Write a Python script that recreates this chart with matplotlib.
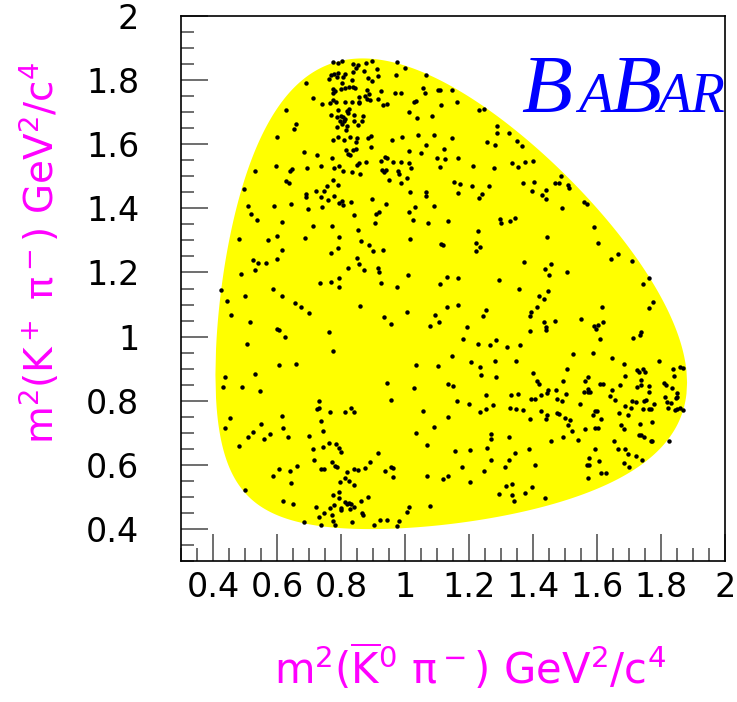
import numpy as np
import matplotlib
matplotlib.use("Agg")
from matplotlib import pyplot as plt
from matplotlib.ticker import MultipleLocator, FuncFormatter

plt.rcParams['mathtext.default'] = 'regular'

# masses (GeV) for D0 -> K0bar K+ pi-, used for the kinematic boundary
m_d0 = 1.8648
m_k0 = 0.4976
m_kp = 0.4937
m_pi = 0.1396

# events: m2(K0bar pi-) and m2(K+ pi-) in three bands
x_top = [0.774,0.790,0.804,0.837,0.852,0.846,0.896,0.877,0.912,0.976,
         0.999,1.067,0.764,0.770,0.779,0.792,0.812,0.786,0.805,0.838,
         0.835,0.872,0.884,0.897,0.917,0.972,0.690,0.804,0.774,0.781,
         0.776,0.799,0.813,0.824,0.837,0.845,0.875,0.888,0.882,0.857,
         0.856,0.880,0.924,0.931,0.944,0.969,0.987,1.055,1.062,1.104,
         1.110,1.112,1.033,1.027,1.014,1.037,1.083,0.711,0.740,0.765,
         0.776,0.783,0.812,0.835,0.857,0.890,0.917,0.790,0.818,0.825,
         0.823,0.770,0.787,0.799,0.807,0.814,0.796,0.808,0.802,0.818,
         0.816,0.842,0.841,0.869,0.866,0.852,0.629,0.659,0.652,0.599,
         0.789,0.792,0.775,0.809,0.829,0.850,0.846,0.883,0.893,0.895,
         0.847,0.838,0.815,0.822,0.829,0.960,0.992,1.040,1.065,1.092,
         1.122,1.012,1.050,0.684,0.724,0.771,0.938,0.943,0.926,1.126,
         1.099,0.597,0.640,0.646,0.694,0.737,0.779,0.794,0.807,0.834,
         0.849,0.855,0.877,0.858,0.927,0.940,0.934,0.964,0.977,0.988,
         0.981,1.011,1.018,1.108,0.531,1.007,
         1.146,1.161,1.232,1.246,1.289,1.287,1.325,1.257,1.282,1.351,
         1.365,1.146,1.167,1.213,1.277,1.334,1.354,1.376,1.400,1.487]
y_top = [1.858,1.852,1.861,1.849,1.847,1.839,1.860,1.854,1.836,1.858,
         1.839,1.816,1.804,1.815,1.819,1.823,1.819,1.809,1.809,1.825,
         1.799,1.830,1.807,1.797,1.813,1.817,1.791,1.790,1.772,1.766,
         1.759,1.773,1.776,1.780,1.777,1.775,1.749,1.757,1.741,1.746,
         1.732,1.768,1.767,1.722,1.726,1.759,1.761,1.776,1.761,1.768,
         1.769,1.723,1.736,1.733,1.702,1.682,1.688,1.743,1.724,1.728,
         1.739,1.731,1.731,1.731,1.730,1.738,1.742,1.706,1.703,1.709,
         1.697,1.691,1.685,1.688,1.685,1.679,1.674,1.671,1.662,1.657,
         1.645,1.691,1.674,1.688,1.674,1.660,1.706,1.663,1.646,1.624,
         1.654,1.623,1.613,1.614,1.624,1.620,1.606,1.619,1.626,1.592,
         1.586,1.581,1.581,1.570,1.565,1.613,1.623,1.630,1.598,1.628,
         1.586,1.578,1.572,1.576,1.566,1.556,1.560,1.557,1.549,1.553,
         1.556,1.533,1.517,1.524,1.526,1.533,1.526,1.533,1.515,1.513,
         1.534,1.541,1.545,1.508,1.520,1.520,1.512,1.545,1.515,1.544,
         1.508,1.543,1.527,1.528,1.516,1.496,
         1.769,1.731,1.706,1.710,1.658,1.636,1.636,1.608,1.598,1.611,
         1.596,1.619,1.558,1.533,1.526,1.540,1.528,1.544,1.549,1.502]

x_mid = [0.496,0.629,0.639,0.692,0.690,0.722,0.746,0.755,0.776,0.792,
         0.737,0.759,0.779,0.795,0.802,0.805,0.830,0.740,0.696,0.644,
         0.592,0.509,0.519,0.537,0.615,0.712,0.772,0.840,0.896,0.940,
         0.908,0.919,0.907,0.852,0.862,0.887,0.899,0.930,0.794,0.790,
         0.769,0.687,0.601,0.571,0.480,0.616,0.601,0.526,0.542,0.565,
         0.530,0.488,0.849,0.855,0.872,0.822,0.917,0.920,0.924,0.794,
         0.769,0.735,0.794,0.587,0.616,0.501,0.426,0.444,0.457,0.516,
         0.505,0.601,0.607,0.626,0.655,0.674,0.701,0.764,0.776,0.860,
         0.935,0.955,0.975,1.008,1.015,1.005,1.077,1.095,1.106,1.108,
         1.130,1.112,1.120,1.135,1.072,1.025,1.014,1.031,1.017,1.066,
         1.065,1.092,0.987,0.950,1.132,
         1.153,1.172,1.208,1.263,1.165,1.240,1.231,1.368,1.402,1.468,
         1.481,1.510,1.514,1.398,1.429,1.441,1.441,1.491,1.559,1.568,
         1.590,1.602,1.297,1.300,1.327,1.345,1.227,1.222,1.235,1.222,
         1.445,1.373,1.436,1.456,1.450,1.505,1.643,1.665,1.708,1.761,
         1.745,1.776,1.763,1.165,1.295,1.356,1.447,1.420,1.433,1.413,
         1.395,1.392,1.165,1.252,1.245,1.195,1.181,1.229,1.265,1.283,
         1.318,1.358,1.390,1.435,1.441,1.441,1.468,1.550,1.592,1.604,
         1.597,1.620,1.616,1.608,1.711,1.738,1.735,1.588,1.525,1.646,
         1.146]
y_mid = [1.460,1.485,1.480,1.446,1.434,1.455,1.455,1.470,1.488,1.474,
         1.436,1.426,1.438,1.417,1.424,1.412,1.420,1.405,1.398,1.415,
         1.408,1.406,1.383,1.363,1.358,1.344,1.346,1.378,1.430,1.413,
         1.382,1.388,1.353,1.333,1.298,1.285,1.266,1.269,1.310,1.276,
         1.261,1.308,1.315,1.300,1.303,1.271,1.243,1.239,1.228,1.228,
         1.207,1.195,1.246,1.226,1.208,1.213,1.214,1.202,1.168,1.183,
         1.171,1.166,1.155,1.148,1.127,1.128,1.146,1.111,1.066,1.046,
         0.976,1.025,1.020,0.998,1.105,1.093,1.073,1.013,0.956,1.095,
         1.061,1.038,1.155,1.191,1.303,1.076,1.034,1.068,1.045,1.164,
         1.186,1.290,1.285,1.360,1.353,1.363,1.390,1.403,1.450,1.452,
         1.440,1.408,1.480,1.488,1.093,
         1.483,1.476,1.470,1.470,1.447,1.444,1.433,1.480,1.483,1.480,
         1.480,1.473,1.465,1.453,1.442,1.458,1.430,1.400,1.419,1.414,
         1.342,1.293,1.367,1.353,1.360,1.369,1.330,1.293,1.279,1.268,
         1.312,1.233,1.210,1.225,1.193,1.203,1.241,1.258,1.235,1.183,
         1.163,1.109,1.090,1.182,1.175,1.150,1.143,1.127,1.117,1.091,
         1.077,1.065,1.097,1.083,1.063,1.031,0.993,0.978,0.973,0.990,
         0.966,0.973,1.018,1.045,1.031,1.020,1.050,1.056,1.033,1.037,
         1.023,1.046,1.091,0.993,0.995,1.013,1.005,0.949,0.945,0.934,
         0.941]

x_low = [0.605,0.659,0.437,0.532,0.430,0.492,0.548,1.033,1.102,0.944,
         1.027,1.135,0.957,1.057,1.135,1.092,1.033,1.069,1.069,1.118,
         1.133,1.077,1.012,1.006,0.981,0.975,0.944,0.921,0.902,0.730,
         0.725,0.731,0.767,0.812,0.832,0.840,0.737,0.744,0.701,0.712,
         0.744,0.762,0.784,0.794,0.800,0.717,0.738,0.746,0.772,0.780,
         0.788,0.819,0.842,0.852,0.874,0.890,0.917,0.939,0.955,0.964,
         0.962,0.812,0.825,0.797,0.842,0.776,0.794,0.794,0.812,0.818,
         0.825,0.831,0.840,0.827,0.800,0.799,0.777,0.767,0.862,0.883,
         0.866,0.869,0.721,0.746,0.732,0.771,0.774,0.739,0.782,0.833,
         0.685,0.620,0.650,0.500,0.644,0.642,0.662,0.605,0.587,0.634,
         0.619,0.617,0.577,0.560,0.551,0.526,0.509,0.482,0.454,0.437,
         1.206,1.235,1.238,1.281,1.285,1.347,1.149,1.164,1.200,1.233,
         1.252,1.252,1.275,1.330,1.354,1.327,1.346,1.369,1.399,1.412,
         1.420,1.394,1.407,1.425,1.445,1.447,1.425,1.444,1.442,1.391,
         1.493,1.503,1.472,1.474,1.491,1.474,1.481,1.499,1.516,1.508,
         1.522,1.493,1.506,1.456,1.541,1.561,1.548,1.558,1.561,1.573,
         1.571,1.571,1.579,1.609,1.620,1.595,1.599,1.587,1.611,1.593,
         1.602,1.641,1.647,1.656,1.673,1.685,1.686,1.688,1.698,1.670,
         1.676,1.685,1.710,1.722,1.706,1.726,1.731,1.743,1.749,1.738,
         1.725,1.738,1.747,1.752,1.744,1.763,1.763,1.764,1.770,1.779,
         1.771,1.735,1.731,1.736,1.748,1.768,1.771,1.793,1.810,1.816,
         1.833,1.839,1.841,1.859,1.868,1.849,1.849,1.846,1.813,1.820,
         1.831,1.822,1.845,1.850,1.858,1.868,1.824,1.686,1.666,1.698,
         1.723,1.740,1.685,1.700,1.652,1.595,1.575,1.606,1.568,1.574,
         1.571,1.614,1.628,1.388,1.406,1.343,1.324,1.324,1.313,1.270,
         1.270,1.255,1.268,1.247,1.202,1.204,1.155,1.177,1.315,1.335,
         1.295,1.335,1.340,1.375,1.398,1.438]
y_low = [0.911,0.916,0.874,0.883,0.844,0.844,0.830,0.911,0.908,0.856,
         0.841,0.851,0.801,0.769,0.748,0.718,0.698,0.661,0.566,0.557,
         0.565,0.472,0.469,0.454,0.424,0.409,0.428,0.428,0.413,0.798,
         0.774,0.778,0.766,0.764,0.776,0.766,0.738,0.706,0.689,0.650,
         0.656,0.669,0.666,0.654,0.641,0.614,0.588,0.586,0.609,0.597,
         0.593,0.579,0.586,0.584,0.591,0.609,0.636,0.581,0.594,0.591,
         0.561,0.559,0.551,0.547,0.536,0.506,0.514,0.498,0.483,0.477,
         0.480,0.479,0.469,0.463,0.464,0.460,0.476,0.465,0.488,0.501,
         0.451,0.444,0.467,0.449,0.438,0.442,0.426,0.411,0.411,0.421,
         0.421,0.486,0.478,0.522,0.543,0.581,0.597,0.588,0.564,0.688,
         0.716,0.753,0.696,0.681,0.728,0.703,0.686,0.659,0.746,0.716,
         0.922,0.906,0.880,0.924,0.874,0.924,0.846,0.798,0.791,0.766,
         0.819,0.773,0.787,0.817,0.821,0.776,0.773,0.771,0.885,0.863,
         0.851,0.806,0.806,0.818,0.825,0.833,0.769,0.754,0.744,0.743,
         0.862,0.821,0.833,0.804,0.798,0.762,0.759,0.745,0.740,0.723,
         0.706,0.688,0.899,0.674,0.677,0.711,0.791,0.828,0.860,0.874,
         0.838,0.826,0.826,0.852,0.851,0.768,0.767,0.755,0.743,0.714,
         0.714,0.815,0.833,0.802,0.849,0.913,0.876,0.785,0.755,0.762,
         0.723,0.713,0.798,0.797,0.778,0.897,0.888,0.899,0.889,0.866,
         0.844,0.849,0.800,0.803,0.773,0.846,0.827,0.773,0.775,0.791,
         0.733,0.726,0.694,0.694,0.686,0.675,0.673,0.924,0.856,0.849,
         0.841,0.899,0.876,0.906,0.901,0.825,0.813,0.810,0.812,0.795,
         0.793,0.776,0.770,0.773,0.778,0.771,0.675,0.649,0.650,0.633,
         0.628,0.616,0.606,0.594,0.675,0.650,0.622,0.613,0.599,0.599,
         0.558,0.574,0.576,0.648,0.601,0.638,0.688,0.616,0.593,0.696,
         0.681,0.653,0.616,0.582,0.547,0.646,0.644,0.593,0.534,0.540,
         0.509,0.506,0.486,0.511,0.531,0.495]

tick_vals = [0.4, 0.6, 0.8, 1.0, 1.2, 1.4, 1.6, 1.8, 2.0]

# Dalitz boundary: x = m2(K0bar pi-), y = m2(K+ pi-)
xs = np.linspace((m_k0 + m_pi)**2, (m_d0 - m_kp)**2, 800)
m12 = np.sqrt(xs)
e2 = (xs - m_k0**2 + m_pi**2) / (2 * m12)
e3 = (m_d0**2 - xs - m_kp**2) / (2 * m12)
p2 = np.sqrt(np.clip(e2**2 - m_pi**2, 0, None))
p3 = np.sqrt(np.clip(e3**2 - m_kp**2, 0, None))
y_lo = (e2 + e3)**2 - (p2 + p3)**2
y_hi = (e2 + e3)**2 - (p2 - p3)**2

fig = plt.figure(figsize=(7.37, 7.02), dpi=100)
ax = fig.add_axes([181/737, 141/702, 544/737, 545/702])

ax.fill_between(xs, y_lo, y_hi, color='#ffff00', lw=0)
ax.plot(x_top + x_mid + x_low, y_top + y_mid + y_low, 'o', color='black',
        ms=3.2, mec='none')

ax.set_xlim(0.3, 2.0)
ax.set_ylim(0.3, 2.0)
fmt = FuncFormatter(lambda v, p: f"{v:g}")
for axis in (ax.xaxis, ax.yaxis):
    axis.set_major_locator(plt.FixedLocator(tick_vals))
    axis.set_minor_locator(MultipleLocator(0.05))
    axis.set_major_formatter(fmt)
ax.tick_params(which='both', direction='in', top=False, right=False,
               color='#555555', width=1.2, labelsize=24)
ax.tick_params(which='major', length=19.5)
ax.tick_params(which='minor', length=9.5)
ax.tick_params(axis='x', pad=7)
ax.tick_params(axis='y', pad=30)
for s in ax.spines.values():
    s.set_linewidth(1.2)

fig.text(40/737, 1 - 253/702, r'm$^2$(K$^+$ $\pi^-$) GeV$^2$/c$^4$',
         color='#ff00ff', fontsize=28, rotation=90, ha='center', va='center')
fig.text(470/737, 1 - 668/702, r'm$^2$($\overline{\rm K}^0$ $\pi^-$) GeV$^2$/c$^4$',
         color='#ff00ff', fontsize=30, ha='center', va='center')

# BABAR logo
logo = dict(color='#0000ff', family='Liberation Serif', style='italic',
            va='baseline', ha='left')
base = 1 - 112/702
fig.text(521/737, base, 'B', fontsize=60, **logo)
fig.text(578/737, base, 'A', fontsize=41, **logo)
fig.text(610/737, base, 'B', fontsize=60, **logo)
fig.text(657/737, base, 'AR', fontsize=40, **logo)

fig.savefig('out.png', dpi=100)
